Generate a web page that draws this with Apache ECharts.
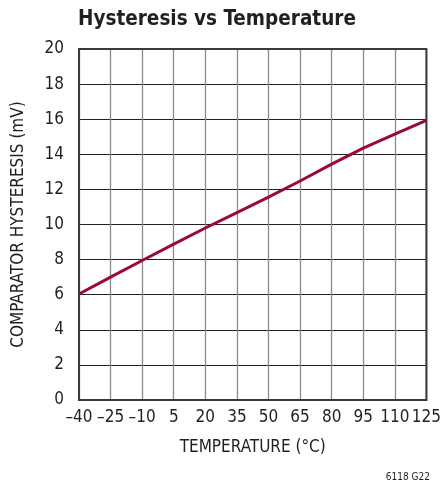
<!DOCTYPE html>
<html>
<head>
<meta charset="utf-8">
<script src="https://cdn.jsdelivr.net/npm/echarts@6/dist/echarts.min.js"></script>
<style>
  html, body { margin: 0; padding: 0; background: #fff; }
  #chart { width: 444px; height: 484px; }
</style>
</head>
<body>
<div id="chart"></div>
<script>
// temperature (°C) and hysteresis (mV)
var temps = [-40, -25, -10, 5, 20, 35, 50, 65, 80, 95, 110, 125];
var hyst = [6.04, 7.0, 7.95, 8.88, 9.8, 10.68, 11.56, 12.48, 13.44, 14.35, 15.15, 15.93];
var xTicks = [-40, -25, -10, 5, 20, 35, 50, 65, 80, 95, 110, 125];

var font = '"Liberation Sans Narrow", "DejaVu Sans Condensed", sans-serif';
var chart = echarts.init(document.getElementById("chart"));

chart.setOption({
  animation: false,
  textStyle: { fontFamily: font },
  title: [
    {
      text: "Hysteresis vs Temperature",
      left: 73,
      top: 4,
      textStyle: { fontFamily: font, fontSize: 20.5, fontWeight: "bold", color: "#231f20" }
    },
    {
      text: "6118 G22",
      right: 9,
      top: 467,
      textStyle: { fontFamily: font, fontSize: 10, fontWeight: "normal", color: "#231f20" }
    }
  ],
  grid: { left: 79, top: 49, width: 352, height: 351 },
  xAxis: {
    type: "value",
    min: -40,
    max: 125,
    interval: 15,
    name: "TEMPERATURE (°C)",
    nameLocation: "middle",
    nameGap: 39,
    nameTextStyle: { fontSize: 17, color: "#231f20" },
    axisLine: { show: false },
    axisTick: { show: false },
    splitLine: { show: true, lineStyle: { color: "#8c8c8c", width: 1.3 } },
    axisLabel: {
      fontSize: 17,
      color: "#231f20",
      margin: 9,
      formatter: function (v) {
        return xTicks.indexOf(v) >= 0 ? String(v).replace("-", "\u2013") : "";
      }
    }
  },
  yAxis: {
    type: "value",
    min: 0,
    max: 20,
    interval: 2,
    name: "COMPARATOR HYSTERESIS (mV)",
    nameLocation: "middle",
    nameGap: 52,
    nameRotate: 90,
    nameTextStyle: { fontSize: 17, color: "#231f20" },
    axisLine: { show: false },
    axisTick: { show: false },
    splitLine: { show: true, lineStyle: { color: "#231f20", width: 1.2 } },
    axisLabel: { fontSize: 17, color: "#231f20", margin: 15 }
  },
  series: [
    {
      type: "line",
      data: temps.map(function (t, i) { return [t, hyst[i]]; }),
      showSymbol: false,
      lineStyle: { color: "#9b0a34", width: 3 },
      z: 5
    },
    {
      // plot frame
      type: "line",
      data: [],
      markArea: {
        silent: true,
        itemStyle: { color: "transparent", borderColor: "#3a3a3a", borderWidth: 2 },
        data: [[{ coord: [-40, 0] }, { coord: [125, 20] }]]
      }
    }
  ]
});
</script>
</body>
</html>
